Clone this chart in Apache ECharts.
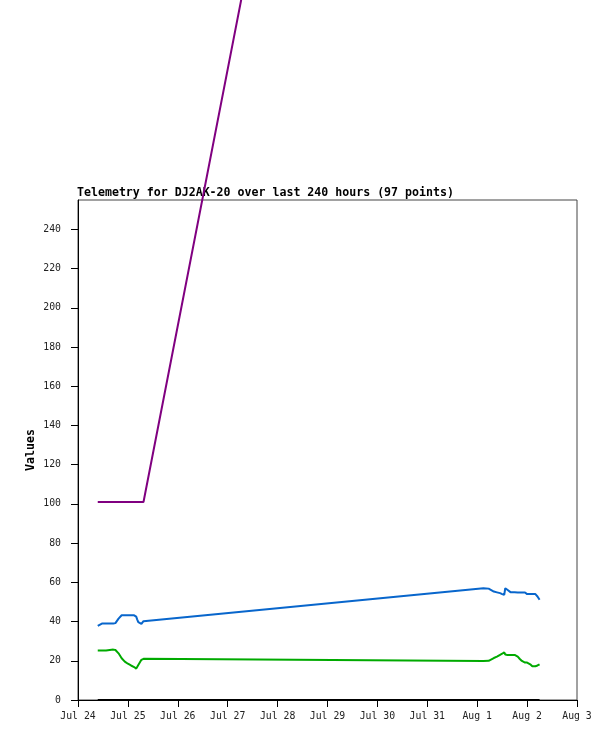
<!DOCTYPE html>
<html>
<head>
<meta charset="utf-8">
<script src="https://cdn.jsdelivr.net/npm/echarts@6/dist/echarts.min.js"></script>
<style>
  html, body { margin: 0; padding: 0; background: #fff; }
  #chart { width: 615px; height: 741px; }
</style>
</head>
<body>
<div id="chart"></div>
<script>
// Hours after Jul 24 00:00 UTC for each sample (two bursts with a gap between)
const hours = [
    9.5, 11.5, 13.5, 14.0, 17.0, 18.0, 19.5, 21.0, 22.5, 24.0, 25.5, 27.0,
    28.0, 28.5, 29.0, 30.5, 31.5,
    195.0, 197.5, 198.0, 200.0, 201.5, 203.0, 204.0, 205.0, 205.5, 206.5,
    208.0, 210.0, 211.5, 212.5, 213.5, 215.0, 216.0, 216.5, 217.5, 218.5,
    220.0, 220.5, 221.0, 221.5, 222.0,
];
const blueValues = [
    37.8, 39.0, 39.0, 39.0, 39.0, 39.2, 41.5, 43.2, 43.2, 43.2, 43.2, 43.2,
    42.5, 41.0, 39.7, 38.8, 40.2,
    57.0, 56.8, 55.9, 55.3, 54.9, 54.5, 54.0, 53.6, 57.0, 56.2,
    55.0, 54.9, 54.8, 54.8, 54.8, 54.8, 54.0, 54.0, 54.0, 54.0,
    54.0, 53.5, 52.8, 52.0, 51.1,
];
const greenValues = [
    25.2, 25.2, 25.2, 25.7, 25.7, 25.5, 23.8, 21.3, 19.6, 18.5, 17.6, 16.8,
    16.0, 16.5, 17.9, 20.5, 21.0,
    19.9, 20.0, 20.3, 21.4, 22.1, 23.0, 23.6, 24.3, 23.2, 23.0,
    23.0, 23.0, 22.1, 20.9, 19.9, 19.1, 19.1, 19.0, 18.2, 17.2,
    17.2, 17.2, 17.6, 18.2, 18.2,
];
const purpleValues = [
    101, 101, 101, 101, 101, 101, 101, 101, 101, 101, 101, 101,
    101, 101, 101, 101, 101,
    992, 992, 993, 993, 993, 994, 994, 994, 994, 995,
    995, 995, 995, 995, 996, 996, 996, 996, 996, 996,
    997, 997, 997, 997, 997,
];
const blackValues = hours.map(() => 0);

const yTicks = [0, 20, 40, 60, 80, 100, 120, 140, 160, 180, 200, 220, 240];
const months = ['Jan', 'Feb', 'Mar', 'Apr', 'May', 'Jun', 'Jul', 'Aug', 'Sep', 'Oct', 'Nov', 'Dec'];

const DAY = 86400000;
const START = Date.UTC(2024, 6, 24);
const END = Date.UTC(2024, 7, 3);
const FONT = '"DejaVu Sans Mono", monospace';

const pairs = vals => hours.map((h, i) => [START + h * 3600000, vals[i]]);

function line(name, color, vals) {
    return {
        name, type: 'line', data: pairs(vals),
        showSymbol: false, clip: false, z: 10,
        lineStyle: { color, width: 2 },
        itemStyle: { color },
        emphasis: { disabled: true },
    };
}

const chart = echarts.init(document.getElementById('chart'));
chart.setOption({
    animation: false,
    backgroundColor: '#fff',
    title: {
        text: 'Telemetry for DJ2AK-20 over last 240 hours (97 points)',
        left: 77, top: 187, padding: 0,
        textStyle: { fontFamily: FONT, fontSize: 11.6, fontWeight: 'bold', color: '#000' },
    },
    // y-axis title, placed by hand (the axis name gets pushed away from the labels)
    graphic: [{
        type: 'text', x: 31, y: 450, rotation: Math.PI / 2,
        style: {
            text: 'Values', fill: '#000', align: 'center', verticalAlign: 'middle',
            font: 'bold 11.6px ' + FONT,
        },
    }],
    grid: {
        left: 78, right: 38, top: 200, bottom: 41,
        show: true, borderColor: '#444', borderWidth: 1,
    },
    xAxis: {
        type: 'value', min: START, max: END, interval: DAY,
        splitLine: { show: false },
        axisLine: { lineStyle: { color: '#000', width: 1 } },
        axisTick: { length: 7, lineStyle: { color: '#000' } },
        axisLabel: {
            margin: 11, color: '#222', fontFamily: FONT, fontSize: 9.8,
            formatter: v => {
                const d = new Date(v);
                return months[d.getUTCMonth()] + ' ' + d.getUTCDate();
            },
        },
    },
    yAxis: {
        type: 'value', min: 0, max: 255,
        splitLine: { show: false },
        axisLine: { lineStyle: { color: '#000', width: 1 } },
        axisTick: { length: 7, customValues: yTicks, lineStyle: { color: '#000' } },
        axisLabel: {
            margin: 17, color: '#222', fontFamily: FONT, fontSize: 9.8,
            customValues: yTicks,
        },
    },
    series: [
        line('purple', '#800080', purpleValues),
        line('blue', '#0866cc', blueValues),
        line('green', '#00aa00', greenValues),
        line('black', '#000000', blackValues),
    ],
});
</script>
</body>
</html>
